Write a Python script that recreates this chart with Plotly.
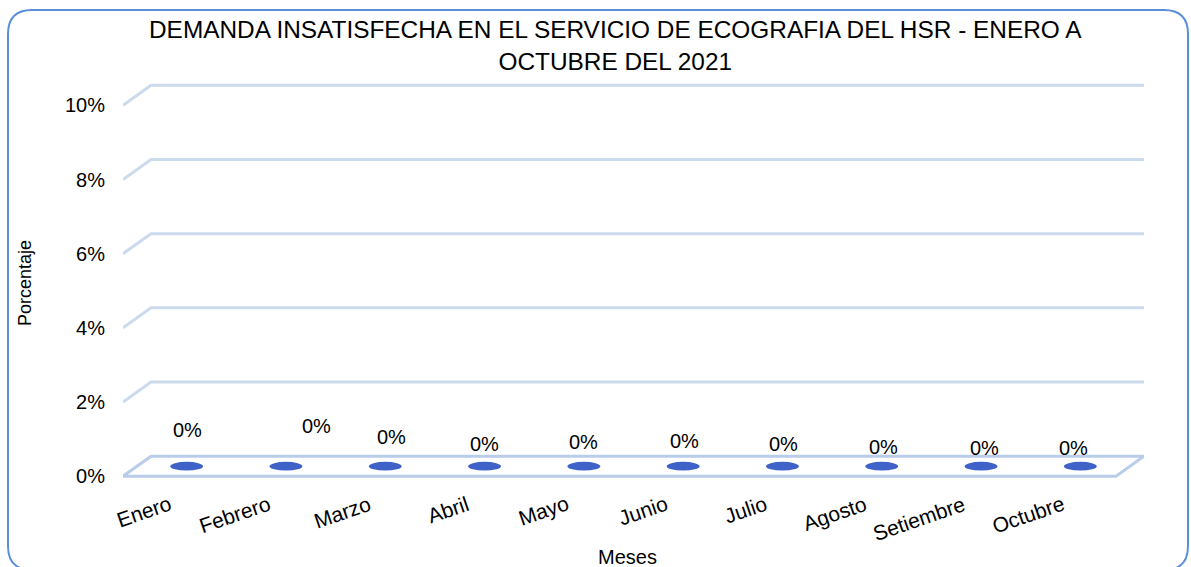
import plotly.graph_objects as go

# ---------------- data ----------------
months = ["Enero", "Febrero", "Marzo", "Abril", "Mayo", "Junio",
          "Julio", "Agosto", "Setiembre", "Octubre"]
values = [0, 0, 0, 0, 0, 0, 0, 0, 0, 0]          # percent
value_labels = ["0%"] * 10
y_ticks = [0, 2, 4, 6, 8, 10]
y_tick_labels = ["0%", "2%", "4%", "6%", "8%", "10%"]
title_lines = ["DEMANDA INSATISFECHA EN EL SERVICIO DE ECOGRAFIA DEL HSR - ENERO A",
               "OCTUBRE DEL 2021"]
x_title = "Meses"
y_title = "Porcentaje"

# ---------------- style / layout ----------------
W, H = 1191, 567
L, R, T, B = 123, 47, 72, 76
plot_w = W - L - R
plot_h = H - T - B
FONT = "Liberation Sans, Arial, sans-serif"
n = len(months)

depth_x_px, depth_y_px = 28, 20
ppu_x = (plot_w - depth_x_px) / n
y_range = [-0.4, 10.9]
ppu_y = plot_h / (y_range[1] - y_range[0])
dx = depth_x_px / ppu_x
dy = depth_y_px / ppu_y
hx = dx / 2
x_range = [-0.5 - hx, n - 0.5 + hx]

grid_color = "#CCDAED"
floor_color = "#B9CDEA"
disc_color = "#3F62C8"

# label offsets (pixels) of the "0%" value labels relative to each disc
label_xshift = [1, 31, 6, 0, 0, 1, 1, 2, 3, -7]
label_yshift = [36, 40, 29, 22, 24, 25, 22, 19, 18, 18]


def px2paper(x, y):
    return (x - L) / plot_w, (H - B - y) / plot_h


fig = go.Figure()
fig.add_trace(go.Scatter(x=list(range(n)), y=values, mode="markers",
                         marker=dict(opacity=0), hoverinfo="skip",
                         showlegend=False))

shapes = []
# back-wall gridlines with perspective
for v in y_ticks[1:]:
    path = (f"M{x_range[0]},{v} L{-0.5 + hx},{v + dy} L{x_range[1]},{v + dy}")
    shapes.append(dict(type="path", xref="x", yref="y", path=path,
                       line=dict(color=grid_color, width=3), layer="below"))
# floor
fl = (f"M{x_range[0]},0 L{n - 0.5 - hx},0 L{x_range[1]},{dy} "
      f"L{-0.5 + hx},{dy} Z")
shapes.append(dict(type="path", xref="x", yref="y", path=fl,
                   line=dict(color=floor_color, width=3), layer="below"))
# discs (zero-height columns)
rx = 16.5 / ppu_x
ry = 4.3 / ppu_y
for i, v in enumerate(values):
    yc = v + dy / 2
    shapes.append(dict(type="circle", xref="x", yref="y",
                       x0=i - rx, x1=i + rx, y0=yc - ry, y1=yc + ry,
                       fillcolor=disc_color, line=dict(width=0)))


# rounded border
def P(x, y):
    a, b = px2paper(x, y)
    return f"{a:.5f},{b:.5f}"


x0, y0, x1, y1, r = 8, 10, 1188, 570, 24
border = (f"M{P(x0 + r, y0)} L{P(x1 - r, y0)} Q{P(x1, y0)} {P(x1, y0 + r)} "
          f"L{P(x1, y1 - r)} Q{P(x1, y1)} {P(x1 - r, y1)} "
          f"L{P(x0 + r, y1)} Q{P(x0, y1)} {P(x0, y1 - r)} "
          f"L{P(x0, y0 + r)} Q{P(x0, y0)} {P(x0 + r, y0)} Z")
shapes.append(dict(type="path", xref="paper", yref="paper", path=border,
                   line=dict(color="#5B8ED8", width=2)))

annotations = []
# value labels
for i, (v, lab) in enumerate(zip(values, value_labels)):
    annotations.append(dict(x=i, y=v + dy / 2, xref="x", yref="y", text=lab,
                            showarrow=False, xshift=label_xshift[i],
                            yshift=label_yshift[i],
                            font=dict(family=FONT, size=20, color="#000")))
# category labels on the front edge
for i, m in enumerate(months):
    annotations.append(dict(x=i - hx, y=0, xref="x", yref="y", text=m,
                            showarrow=False, textangle=-19,
                            xanchor="right", yanchor="top", yshift=-13,
                            xshift=4,
                            font=dict(family=FONT, size=21, color="#000")))
# title
tx, ty = px2paper(615, 45)
annotations.append(dict(x=tx, y=ty, xref="paper", yref="paper",
                        text="<br>".join(title_lines), showarrow=False,
                        xanchor="center", yanchor="middle",
                        font=dict(family=FONT, size=24.4, color="#000")))
# axis titles
ax, ay = px2paper(627, 557)
annotations.append(dict(x=ax, y=ay, xref="paper", yref="paper", text=x_title,
                        showarrow=False, xanchor="center", yanchor="middle",
                        font=dict(family=FONT, size=20, color="#000")))
bx, by = px2paper(25, 283)
annotations.append(dict(x=bx, y=by, xref="paper", yref="paper", text=y_title,
                        showarrow=False, textangle=-90, xanchor="center",
                        yanchor="middle",
                        font=dict(family=FONT, size=18, color="#000")))

fig.update_layout(
    width=W, height=H,
    margin=dict(l=L, r=R, t=T, b=B),
    paper_bgcolor="white", plot_bgcolor="white",
    showlegend=False,
    shapes=shapes, annotations=annotations,
    xaxis=dict(range=x_range, showgrid=False, zeroline=False,
               showline=False, showticklabels=False, fixedrange=True),
    yaxis=dict(range=y_range, tickvals=y_ticks, ticktext=y_tick_labels,
               showgrid=False, zeroline=False, showline=False, ticks="",
               ticklabelstandoff=17,
               tickfont=dict(family=FONT, size=20, color="#000"),
               fixedrange=True),
)

fig.write_html(
    "out.html",
    config={"displayModeBar": False},
    post_script="document.body.style.margin='0';document.body.style.padding='0';"
                "document.body.style.overflow='hidden';",
)
